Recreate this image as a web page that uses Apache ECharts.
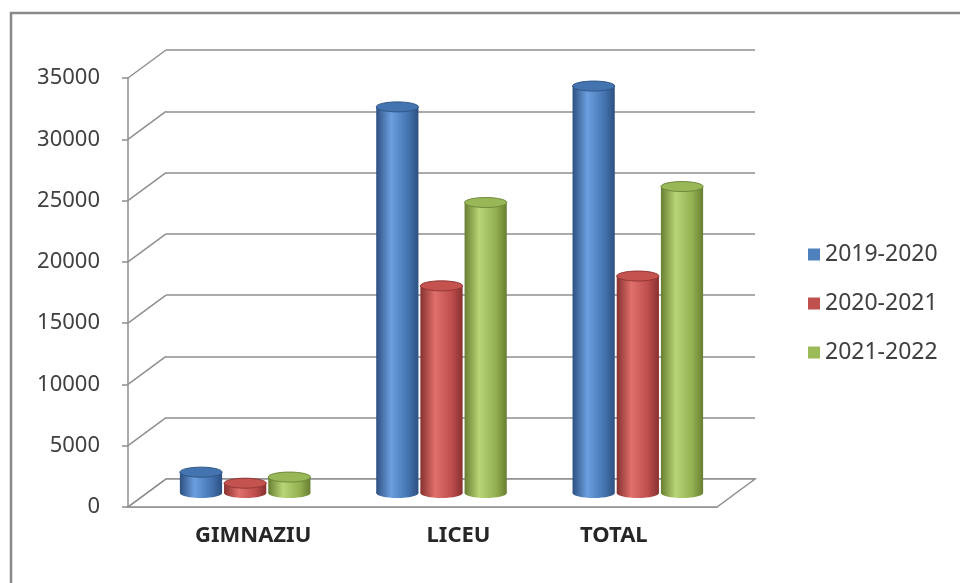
<!DOCTYPE html>
<html><head><meta charset="utf-8">
<script src="https://cdn.jsdelivr.net/npm/echarts@6/dist/echarts.min.js"></script>
<style>html,body{margin:0;padding:0;background:#fff}#c{width:960px;height:583px}</style>
</head><body><div id="c"></div>
<script>
// ---- data ----
const categories = ['GIMNAZIU', 'LICEU', 'TOTAL'];
const seriesNames = ['2019-2020', '2020-2021', '2021-2022'];
const values2019 = [1700, 31500, 33200];
const values2020 = [800, 16900, 17700];
const values2021 = [1300, 23700, 25000];
const yTicks = [0, 5000, 10000, 15000, 20000, 25000, 30000, 35000];

// ---- styles ----
const FONT = 'Noto Sans';
const GRID_COLOR = '#8f8f8f';
const DX = 38, DY = 28;
const palettes = [
  { edge: '#2e5080', mid: '#6b9fe0', side: '#4474b0', top: '#4474b0', topRim: '#2f5688' },
  { edge: '#86312f', mid: '#e0706b', side: '#bd4c4c', top: '#c4524f', topRim: '#923735' },
  { edge: '#687e32', mid: '#b8d676', side: '#92b050', top: '#98b858', topRim: '#70893a' }
];
const baseColors = ['#4F81BD', '#C0504D', '#9BBB59'];
const allValues = [values2019, values2020, values2021];

const chart = echarts.init(document.getElementById('c'), null, { renderer: 'canvas' });

function bodyGradient(p) {
  return {
    type: 'linear', x: 0, y: 0, x2: 1, y2: 0,
    colorStops: [
      { offset: 0, color: p.edge },
      { offset: 0.35, color: p.mid },
      { offset: 0.75, color: p.side },
      { offset: 1, color: p.edge }
    ]
  };
}

function makeCylinder(idx) {
  return function (params, api) {
    const cat = api.value(0), val = api.value(1);
    const base = api.coord([cat, 0]);
    const top = api.coord([cat, val]);
    const band = api.size([1, 0])[0];
    const cx = base[0] + (idx - 1) * band * 0.225;
    const w = band * 0.215;
    const rx = w / 2, ry = 5;
    const p = palettes[idx];
    return {
      type: 'group',
      children: [
        { type: 'ellipse', shape: { cx: cx, cy: base[1], rx: rx, ry: ry }, style: { fill: bodyGradient(p) } },
        { type: 'rect', shape: { x: cx - rx, y: top[1], width: w, height: base[1] - top[1] }, style: { fill: bodyGradient(p) } },
        { type: 'ellipse', shape: { cx: cx, cy: top[1], rx: rx, ry: ry },
          style: { fill: p.top, stroke: p.topRim, lineWidth: 1 } }
      ]
    };
  };
}

const cylSeries = seriesNames.map((name, i) => ({
  name: name,
  type: 'custom',
  xAxisIndex: 2, yAxisIndex: 2,
  itemStyle: { color: baseColors[i] },
  z: 10 + i,
  renderItem: makeCylinder(i),
  data: allValues[i].map((v, k) => [k, v])
}));

const option = {
  animation: false,
  backgroundColor: '#ffffff',
  graphic: [{
    type: 'rect', shape: { x: 11, y: 13, width: 952, height: 600 },
    style: { fill: 'none', stroke: '#8a8a8a', lineWidth: 2.5 }, silent: true, z: 100
  }],
  legend: {
    orient: 'vertical', left: 808, top: 243, padding: 0,
    itemWidth: 12, itemHeight: 12, itemGap: 26, icon: 'rect',
    textStyle: { fontFamily: FONT, fontSize: 23, lineHeight: 23, color: '#404040' },
    data: seriesNames
  },
  grid: [
    { left: 128, top: 78, width: 589, height: 429 },
    { left: 166, top: 50, width: 589, height: 429 },
    { left: 147, top: 64, width: 589, height: 429 }
  ],
  xAxis: [
    {
      gridIndex: 0, type: 'category', data: categories,
      axisLine: { lineStyle: { color: GRID_COLOR, width: 1.5 } },
      axisTick: { show: false },
      axisLabel: {
        margin: 18,
        formatter: (v, i) => '{c' + i + '|' + v + '}',
        rich: {
          c0: { fontFamily: FONT, fontSize: 22, fontWeight: 'bold', color: '#262626', padding: [0, 0, 0, 54] },
          c1: { fontFamily: FONT, fontSize: 22, fontWeight: 'bold', color: '#262626', padding: [0, 0, 0, 72] },
          c2: { fontFamily: FONT, fontSize: 22, fontWeight: 'bold', color: '#262626', padding: [0, 10, 0, 0] }
        }
      }
    },
    { gridIndex: 1, type: 'category', data: categories, show: false },
    { gridIndex: 2, type: 'category', data: categories, show: false }
  ],
  yAxis: [
    {
      gridIndex: 0, type: 'value', min: 0, max: 35000, interval: 5000,
      axisLine: { show: true, lineStyle: { color: GRID_COLOR, width: 1.5 } },
      axisTick: { show: true, length: 6, lineStyle: { color: GRID_COLOR, width: 1.5 } },
      splitLine: { show: false },
      axisLabel: { margin: 28, fontFamily: FONT, fontSize: 22, color: '#404040', formatter: v => String(v) }
    },
    {
      gridIndex: 1, type: 'value', min: 0, max: 35000, interval: 5000,
      axisLine: { show: false }, axisTick: { show: false }, axisLabel: { show: false },
      splitLine: { show: true, lineStyle: { color: GRID_COLOR, width: 1.5 } }
    },
    { gridIndex: 2, type: 'value', min: 0, max: 35000, interval: 5000, show: false }
  ],
  series: [
    {
      type: 'custom', xAxisIndex: 0, yAxisIndex: 0, silent: true, z: 3,
      data: [[0, 0]],
      renderItem: function (params, api) {
        const cs = params.coordSys;
        const y = api.coord([0, api.value(1)])[1];
        return {
          type: 'polygon',
          shape: { points: [[cs.x, y], [cs.x + cs.width, y], [cs.x + cs.width + DX, y - DY], [cs.x + DX, y - DY]] },
          style: { fill: '#ffffff', stroke: GRID_COLOR, lineWidth: 1.5 }
        };
      }
    },
    {
      type: 'custom', xAxisIndex: 0, yAxisIndex: 0, silent: true, z: 4,
      data: yTicks.map(v => [0, v]),
      renderItem: function (params, api) {
        const cs = params.coordSys;
        const y = api.coord([0, api.value(1)])[1];
        return {
          type: 'line',
          shape: { x1: cs.x, y1: y, x2: cs.x + DX, y2: y - DY },
          style: { stroke: GRID_COLOR, lineWidth: 1.5 }
        };
      }
    }
  ].concat(cylSeries)
};
chart.setOption(option);
</script>
</body></html>
